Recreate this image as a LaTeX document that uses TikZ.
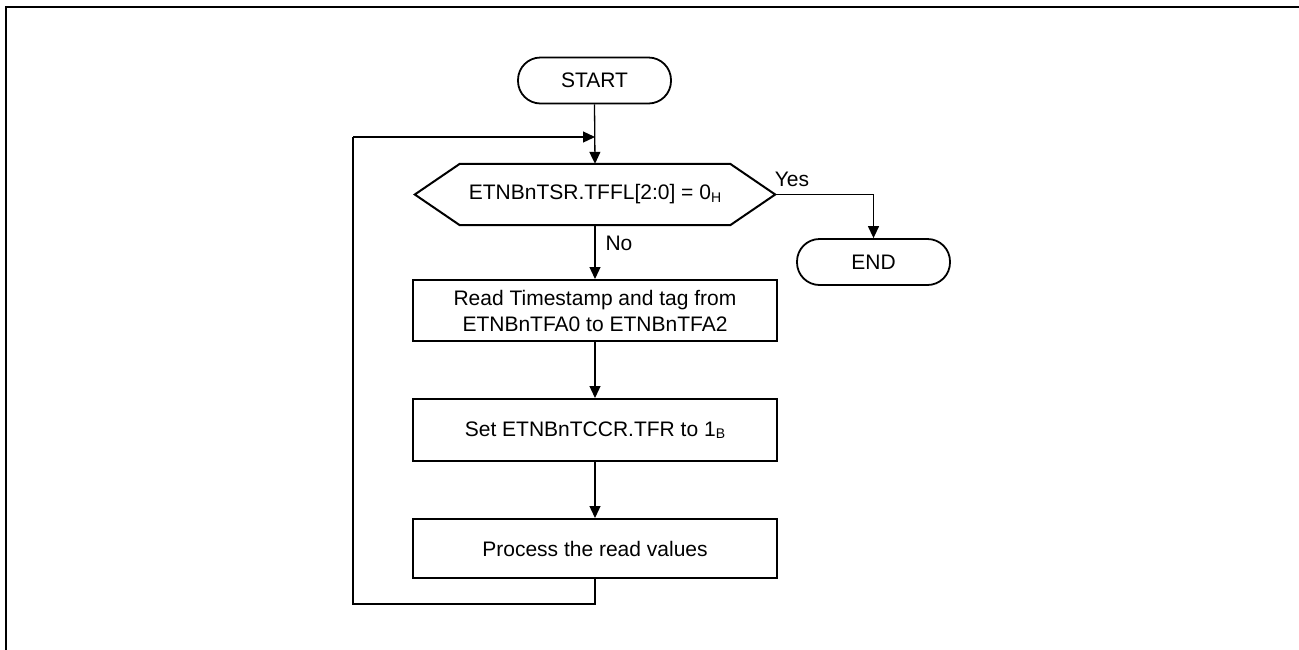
\documentclass[tikz,border=0pt]{standalone}
\usepackage{fontspec}
\setmainfont{Liberation Sans}
\usetikzlibrary{arrows.meta}
\begin{document}
\begin{tikzpicture}[x=1pt,y=-1pt,
  txt/.style={font=\fontsize{21}{26}\selectfont},
  term/.style={txt,draw,line width=1.8pt,rounded corners=22.5pt,minimum width=153pt,minimum height=46pt,inner sep=0pt},
  procbox/.style={txt,draw,line width=2pt,minimum width=364pt,minimum height=61pt,inner sep=0pt,align=center},
  conn/.style={line width=1.3pt},
  arr/.style={conn,-{Triangle[length=12pt,width=11pt]}},
  lbl/.style={txt,inner sep=0pt}]
\useasboundingbox (0,0) rectangle (1299,649);
\draw[line width=2pt] (6,660) -- (6,7) -- (1310,7);
\node[term] (start) at (594.5,80.5) {START};
\node[txt,minimum width=360pt,minimum height=61pt,inner sep=0pt] (dec) at (595,194.5) {ETNBnTSR.TFFL[2:0] = 0{\fontsize{14}{14}\selectfont\raisebox{-0.35ex}{H}}};
\draw[line width=2pt] ([xshift=45pt]dec.north west) -- ([xshift=-45pt]dec.north east) -- (dec.east) -- ([xshift=-45pt]dec.south east) -- ([xshift=45pt]dec.south west) -- (dec.west) -- cycle;
\node[term] (end) at (873.5,262) {END};
\node[procbox] (rd) at (595,310.5) {Read Timestamp and tag from\\ETNBnTFA0 to ETNBnTFA2};
\node[procbox,minimum height=62pt] (set) at (595,430) {Set ETNBnTCCR.TFR to 1{\fontsize{14}{14}\selectfont\raisebox{-0.35ex}{B}}};
\node[procbox,minimum height=59pt] (proc) at (595,548.5) {Process the read values};
\coordinate (merge) at (595,137);
\coordinate (lb) at (353,604);
\coordinate (lt) at (353,137);
\draw[arr] (start.south) -- (dec.north);
\draw[arr] (dec.east) -| (end.north);
\draw[arr] (dec.south) -- (rd.north);
\draw[arr] (rd.south) -- (set.north);
\draw[arr] (set.south) -- (proc.north);
\draw[conn] (proc.south) |- (lb) -- (lt);
\draw[arr] (lt) -- (merge);
\node[lbl] (yes) at (792,179) {Yes};
\node[lbl] (no) at (619,243) {No};
\end{tikzpicture}
\end{document}
